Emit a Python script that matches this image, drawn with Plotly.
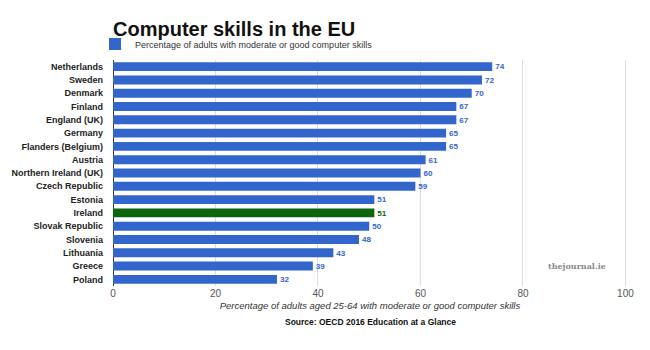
import plotly.graph_objects as go

countries = ["Netherlands", "Sweden", "Denmark", "Finland", "England (UK)", "Germany",
             "Flanders (Belgium)", "Austria", "Northern Ireland (UK)", "Czech Republic",
             "Estonia", "Ireland", "Slovak Republic", "Slovenia", "Lithuania", "Greece", "Poland"]
values = [74, 72, 70, 67, 67, 65, 65, 61, 60, 59, 51, 51, 50, 48, 43, 39, 32]
x_ticks = [0, 20, 40, 60, 80, 100]

BLUE = "#3366cc"
GREEN = "#0d650d"
colors = [GREEN if c == "Ireland" else BLUE for c in countries]

fig = go.Figure()
fig.add_trace(go.Bar(
    y=countries, x=values, orientation="h",
    name="Percentage of adults with moderate or good computer skills",
    marker=dict(color=colors, line=dict(width=0)),
    texttemplate="<b>%{x}</b>", textposition="outside",
    textfont=dict(color=colors, size=10),
    cliponaxis=False,
))

fig.update_layout(
    width=650, height=350,
    margin=dict(l=113, r=23, t=60, b=64),
    paper_bgcolor="white", plot_bgcolor="white",
    bargap=0.33,
    font=dict(family="Arial, Liberation Sans, sans-serif"),
    title=dict(text="<b>Computer skills in the EU</b>", x=113/650, xanchor="left",
               y=1 - 29/350, yanchor="middle", yref="container",
               font=dict(size=20, color="#111111")),
    showlegend=True,
    legend=dict(x=-0.035, xanchor="left", y=1 + 16/226, yanchor="middle", orientation="h",
                font=dict(size=9, color="#333333"), bgcolor="rgba(0,0,0,0)",
                itemwidth=30),
    xaxis=dict(range=[0, 100.3], tickvals=x_ticks, showgrid=True, gridcolor="#dddddd",
               zeroline=True, zerolinecolor="#333333", zerolinewidth=1,
               tickfont=dict(size=10, color="#555555"), automargin=False,
               title=dict(text="<i>Percentage of adults aged 25-64 with moderate or good computer skills</i>",
                          font=dict(size=9.5, color="#333333"), standoff=4)),
    yaxis=dict(autorange="reversed", ticks="", ticklabelstandoff=9, automargin=False,
               tickvals=countries, ticktext=["<b>%s</b>" % c for c in countries],
               tickfont=dict(size=9, color="#222222")),
    annotations=[
        dict(text="<b>Source: OECD 2016 Education at a Glance</b>", xref="paper", yref="paper",
             x=(370 - 113)/514, y=-(322 - 286)/226, xanchor="center", yanchor="middle",
             showarrow=False, font=dict(size=8.5, color="#111111")),
        dict(text="<b>thejournal.ie</b>", xref="paper", yref="paper", x=(577 - 113)/514,
             y=(286 - 266)/226, xanchor="center", yanchor="middle", showarrow=False,
             font=dict(size=8, color="#888888", family="DejaVu Serif, serif")),
    ],
)
fig.write_html("out.html")
